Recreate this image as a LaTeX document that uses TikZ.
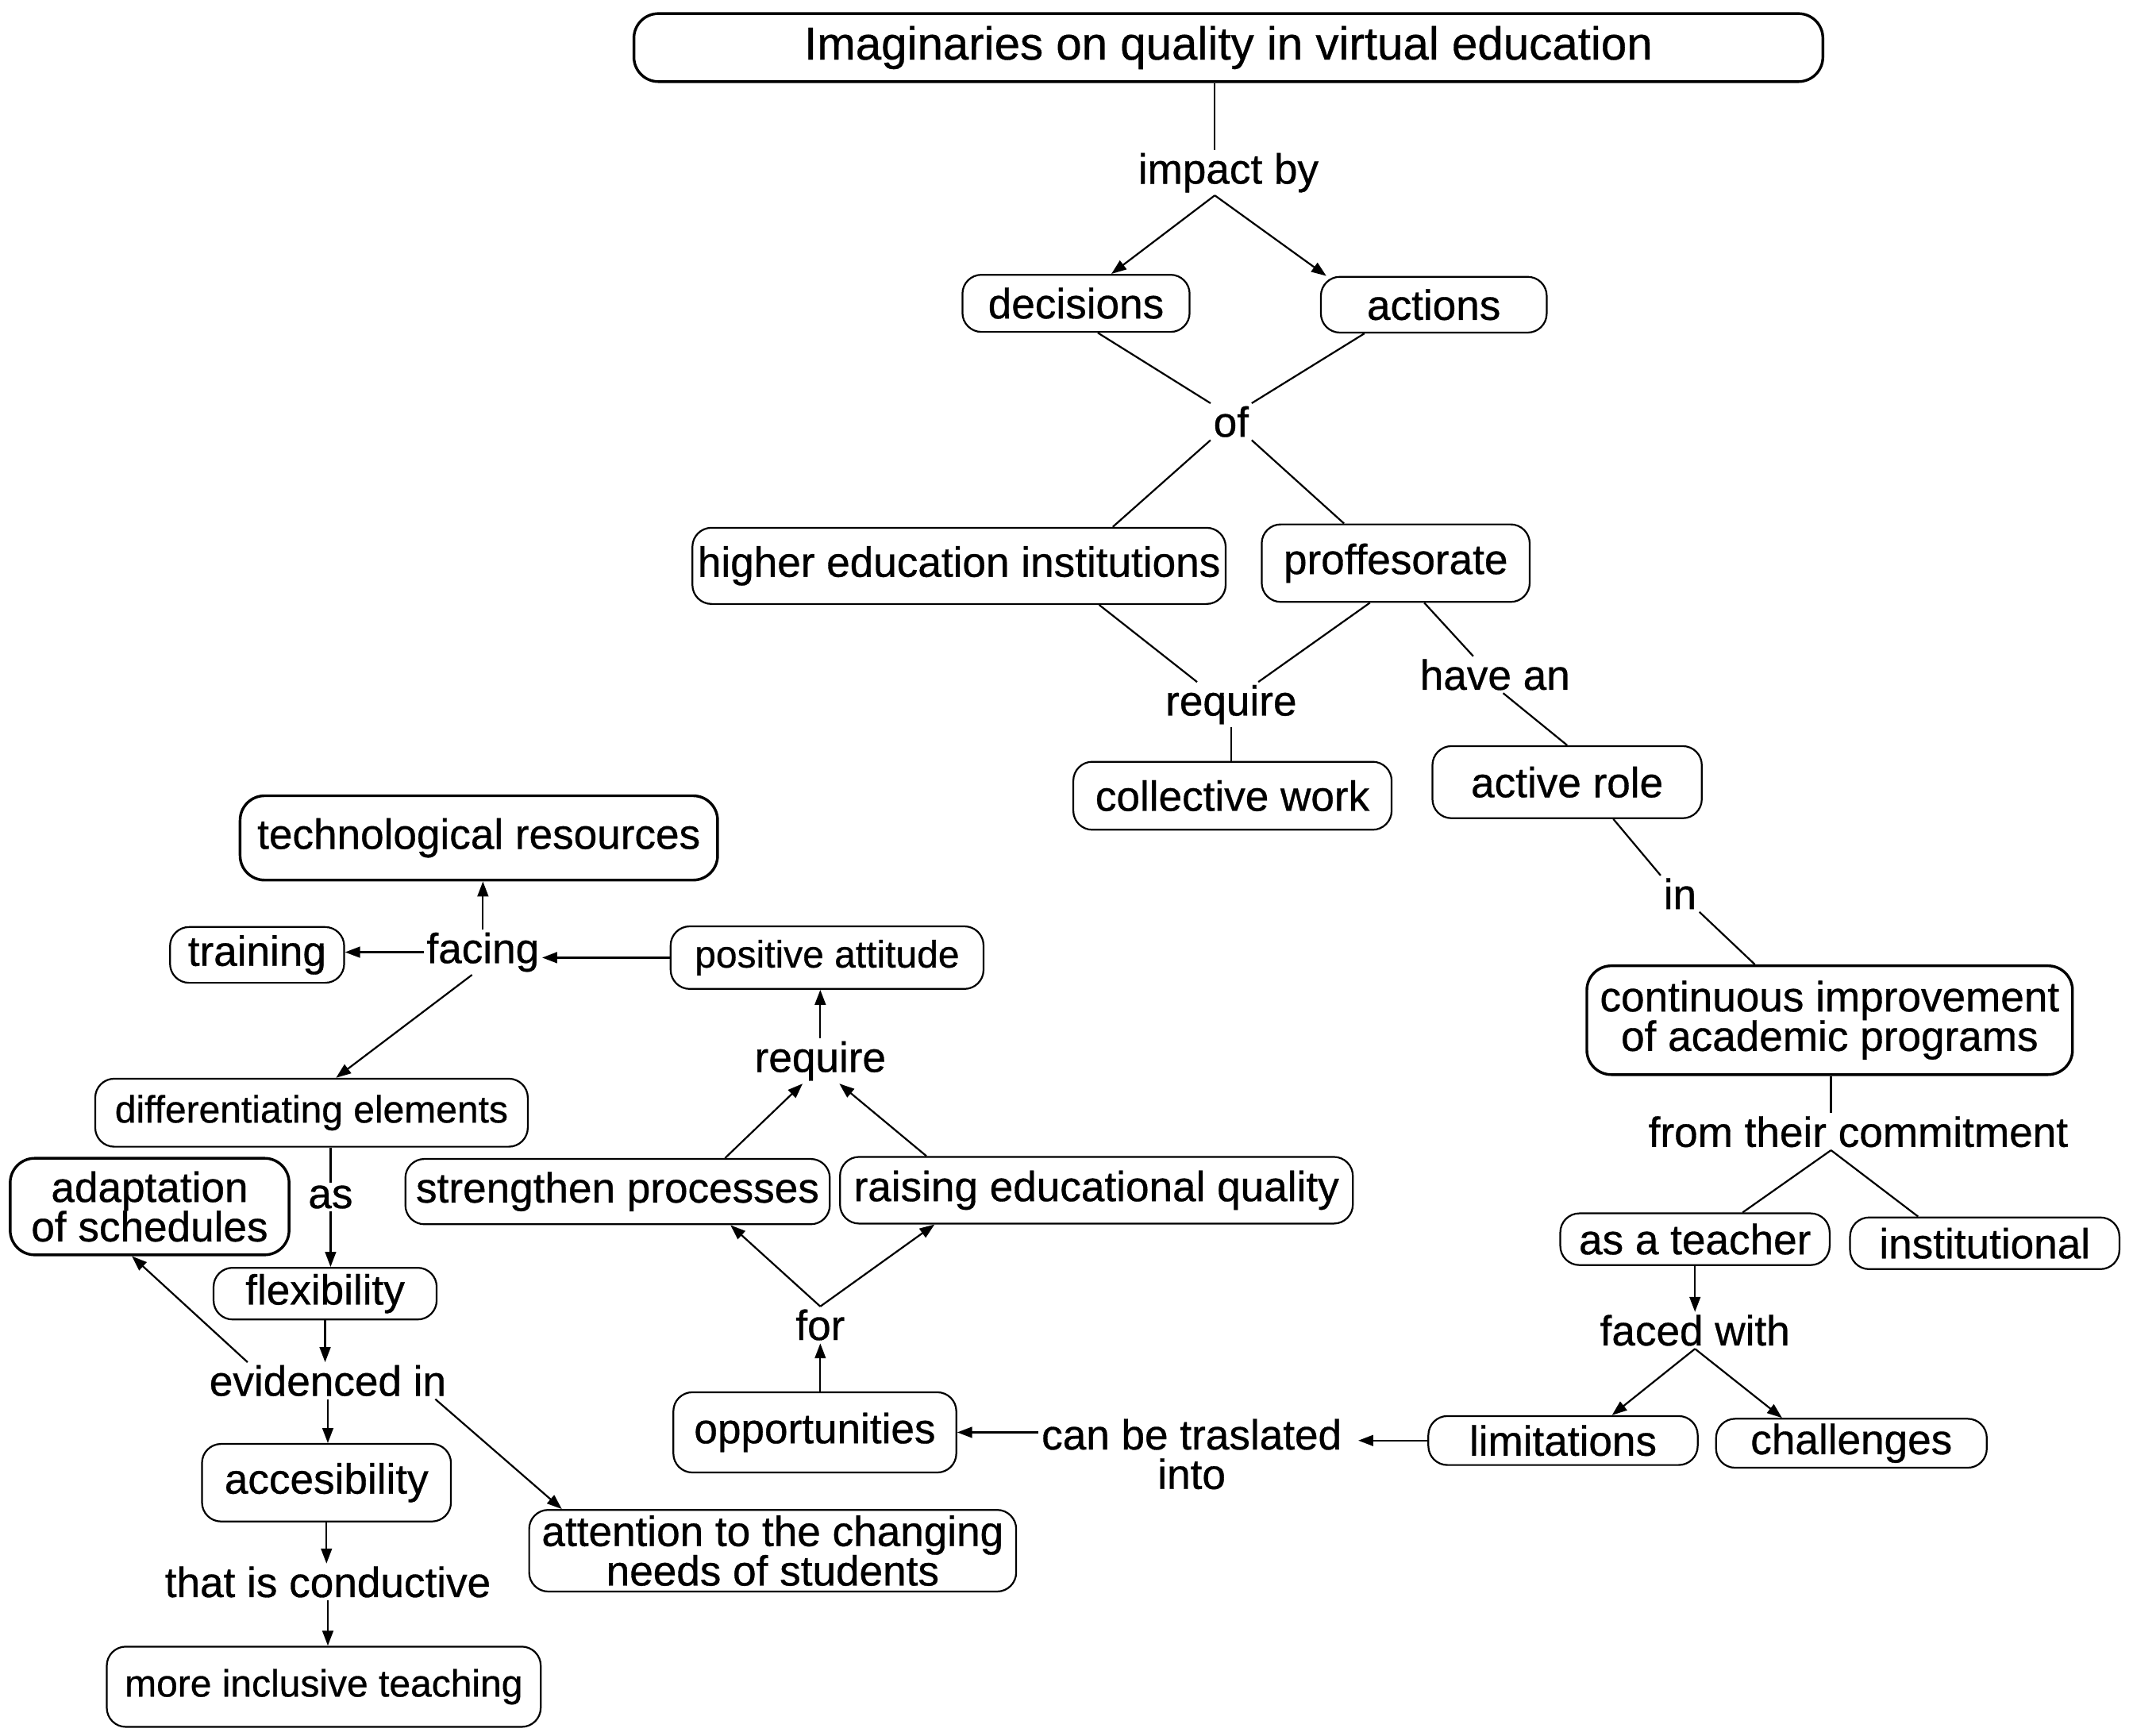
\documentclass[tikz,border=0pt]{standalone}
\usepackage{fontspec}
\setmainfont{Liberation Sans}[FakeBold=0.6]
\usetikzlibrary{arrows.meta}
\begin{document}
\begin{tikzpicture}[x=1pt,y=-1pt,
  cbox/.style={draw, rounded corners=14pt, line width=1.3pt, inner sep=0pt, align=center, font=\fontsize{31}{29}\selectfont},
  cboxthick/.style={cbox, line width=2pt, rounded corners=18pt},
  smalltext/.style={font=\fontsize{28}{28}\selectfont},
  lbl/.style={inner sep=2pt, align=center, font=\fontsize{31}{29}\selectfont},
  conn/.style={line width=1.3pt},
  arr/.style={conn, -{Triangle[length=11pt,width=8pt]}}
]
\useasboundingbox[fill=white] (0,0) rectangle (1568,1276);

% nodes
\node[cboxthick, minimum width=874, minimum height=50, font=\fontsize{34}{34}\selectfont] (title) at (903,35) {Imaginaries on quality in virtual education};
\node[lbl] (ib) at (903,127) {impact by};
\node[cbox, minimum width=167, minimum height=42] (dec) at (791,223) {decisions};
\node[cbox, minimum width=166, minimum height=41] (act) at (1054,224) {actions};
\node[lbl] (ofl) at (905,310) {of};
\node[cbox, minimum width=392, minimum height=56] (hei) at (705,416) {higher education institutions};
\node[cbox, minimum width=197, minimum height=57] (prof) at (1026,414) {proffesorate};
\node[lbl] (req1) at (905,518) {require};
\node[cbox, minimum width=234, minimum height=50] (cw) at (906,585) {collective work};
\node[lbl] (havean) at (1099,496) {have an};
\node[cbox, minimum width=198, minimum height=53] (ar) at (1152,575) {active role};
\node[lbl] (inl) at (1235,657) {in};
\node[cboxthick, minimum width=357, minimum height=80] (cont) at (1345,750) {continuous improvement\\of academic programs};
\node[lbl] (ftc) at (1366,832) {from their commitment};
\node[cbox, minimum width=198, minimum height=38] (teach) at (1246,911) {as a teacher};
\node[cbox, minimum width=198, minimum height=38] (inst) at (1459,914) {institutional};
\node[lbl] (faced) at (1246,978) {faced with};
\node[cbox, minimum width=198, minimum height=36] (lim) at (1149,1059) {limitations};
\node[cbox, minimum width=199, minimum height=36] (chal) at (1361,1061) {challenges};
\node[lbl] (cbt) at (876,1069) {can be traslated\\into};
\node[cbox, minimum width=208, minimum height=59] (opp) at (599,1053) {opportunities};
\node[lbl] (forl) at (603,974) {for};
\node[cbox, minimum width=312, minimum height=48] (str) at (454,876) {strengthen processes};
\node[cbox, minimum width=377, minimum height=49] (raise) at (806,875) {raising educational quality};
\node[lbl] (req2) at (603,780) {require};
\node[cbox, smalltext, minimum width=230, minimum height=46] (pa) at (608,704) {positive attitude};
\node[lbl] (facing) at (355,700) {facing};
\node[cbox, minimum width=128, minimum height=41] (train) at (189,702) {training};
\node[cboxthick, minimum width=351, minimum height=62] (tech) at (352,616) {technological resources};
\node[cbox, smalltext, minimum width=318, minimum height=50] (diff) at (229,818) {differentiating elements};
\node[lbl] (asl) at (243,880) {as};
\node[cboxthick, minimum width=205, minimum height=71] (adapt) at (110,887) {adaptation\\of schedules};
\node[cbox, minimum width=164, minimum height=38] (flex) at (239,951) {flexibility};
\node[lbl] (evid) at (241,1015) {evidenced in};
\node[cbox, minimum width=183, minimum height=57] (acc) at (240,1090) {accesibility};
\node[cbox, minimum width=358, minimum height=60] (att) at (568,1140) {attention to the changing\\needs of students};
\node[lbl] (tic) at (241,1163) {that is conductive};
\node[cbox, smalltext, minimum width=319, minimum height=59] (mit) at (238,1240) {more inclusive teaching};

% connectors
\draw[conn] ([xshift=-10pt]title.south) -- ([xshift=-10pt]ib.north);
\draw[arr] ([xshift=-10pt]ib.south) -- ([xshift=26pt]dec.north);
\draw[arr] ([xshift=-10pt]ib.south) -- ([xshift=-79pt]act.north);
\draw[conn] ([xshift=16pt]dec.south) -- (ofl.north west);
\draw[conn] ([xshift=-51pt]act.south) -- (ofl.north east);
\draw[conn] (ofl.south west) -- ([xshift=113pt]hei.north);
\draw[conn] (ofl.south east) -- ([xshift=-38pt]prof.north);
\draw[conn] ([xshift=103pt]hei.south) -- ([xshift=-25pt]req1.north);
\draw[conn] ([xshift=-19pt]prof.south) -- ([xshift=20pt]req1.north);
\draw[conn] (req1.south) -- (req1.south |- cw.north);
\draw[conn] ([xshift=21pt]prof.south) -- ([xshift=-16pt]havean.north);
\draw[conn] ([xshift=6pt]havean.south) -- (ar.north);
\draw[conn] ([xshift=34pt]ar.south) -- (inl.north west);
\draw[conn] (inl.south east) -- ([xshift=-55pt]cont.north);
\draw[conn] ([xshift=1pt]cont.south) -- ([xshift=-20pt]ftc.north);
\draw[conn] ([xshift=-20pt]ftc.south) -- ([xshift=35pt]teach.north);
\draw[conn] ([xshift=-20pt]ftc.south) -- ([xshift=-49pt]inst.north);
\draw[arr] (teach.south) -- (faced.north);
\draw[arr] (faced.south) -- ([xshift=36pt]lim.north);
\draw[arr] (faced.south) -- ([xshift=-51pt]chal.north);
\draw[arr, shorten >=10pt] (lim.west) -- (lim.west -| cbt.east);
\draw[arr] (cbt.west |- opp.east) -- (opp.east);
\draw[arr] (forl.south |- opp.north) -- (forl.south);
\draw[arr] (forl.north) -- ([xshift=83pt]str.south);
\draw[arr] (forl.north) -- ([xshift=-119pt]raise.south);
\draw[arr] ([xshift=79pt]str.north) -- ([xshift=-13pt]req2.south);
\draw[arr] ([xshift=-125pt]raise.north) -- ([xshift=14pt]req2.south);
\draw[arr] (req2.north) -- (req2.north |- pa.south);
\draw[arr] (pa.west) -- (pa.west -| facing.east);
\draw[arr] (facing.west) -- (facing.west -| train.east);
\draw[arr] (facing.north) -- (facing.north |- tech.south);
\draw[arr] ([xshift=-8pt]facing.south) -- ([xshift=18pt]diff.north);
\draw[conn] (asl.north |- diff.south) -- (asl.north);
\draw[arr] (asl.south) -- (asl.south |- flex.north);
\draw[arr] (flex.south) -- (flex.south |- evid.north);
\draw[arr] ([xshift=-59pt]evid.north) -- ([xshift=-13pt]adapt.south);
\draw[arr] (evid.south) -- (evid.south |- acc.north);
\draw[arr] ([xshift=79pt]evid.south) -- ([xshift=-155pt]att.north);
\draw[arr] (acc.south) -- (acc.south |- tic.north);
\draw[arr] (tic.south) -- (tic.south |- mit.north);
\end{tikzpicture}
\end{document}
